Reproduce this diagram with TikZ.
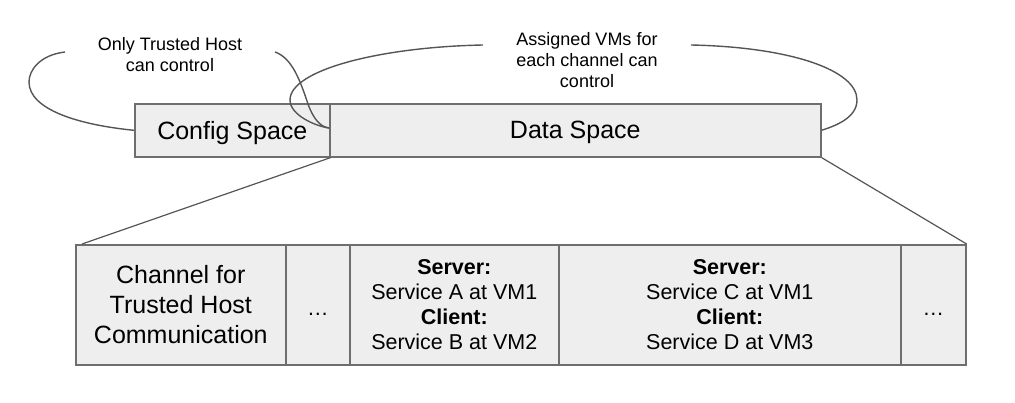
\documentclass[tikz,border=0pt]{standalone}
\usepackage{fontspec}
\setmainfont{Liberation Sans}
\definecolor{boxfill}{HTML}{EEEEEE}
\definecolor{boxline}{HTML}{6E6E6E}
\definecolor{curve}{HTML}{555555}
\tikzset{
  box/.style={draw=boxline, fill=boxfill, line width=1.6pt, inner sep=0pt, anchor=north west, align=center},
  bigtxt/.style={font=\fontsize{25}{30}\selectfont},
  midtxt/.style={font=\fontsize{21.5}{25}\selectfont},
  lbl/.style={font=\fontsize{18}{21}\selectfont, align=center, inner sep=0pt},
  conn/.style={draw=curve, line width=1.4pt},
}
\begin{document}
\begin{tikzpicture}[x=1pt,y=-1pt]
\useasboundingbox (0,0) rectangle (1015,403);
% top boxes
\node[box, bigtxt, minimum width=195pt, minimum height=53pt] (cfg) at (134,103) {\raisebox{-2.5pt}[\height][\depth]{Config Space}};
\node[box, bigtxt, minimum width=491pt, minimum height=53pt] (data) at (329,103) {\raisebox{-2.5pt}[\height][\depth]{Data Space}};
% bottom boxes
\node[box, bigtxt, minimum width=210pt, minimum height=120pt] (ch) at (75,244) {Channel for\\Trusted Host\\Communication};
\node[box, midtxt, minimum width=64pt, minimum height=120pt] (d1) at (285,244) {\raisebox{-10pt}[\height][\depth]{…}};
\node[box, midtxt, minimum width=209pt, minimum height=120pt] (ab) at (349,244) {\textbf{Server:}\\Service A at VM1\\\textbf{Client:}\\Service B at VM2};
\node[box, midtxt, minimum width=342pt, minimum height=120pt] (cd) at (558,244) {\textbf{Server:}\\Service C at VM1\\\textbf{Client:}\\Service D at VM3};
\node[box, midtxt, minimum width=65pt, minimum height=120pt] (d2) at (900,244) {\raisebox{-10pt}[\height][\depth]{…}};
% labels
\node[lbl] (lh) at (170,55) {Only Trusted Host\\can control};
\node[lbl] (lv) at (587,60) {Assigned VMs for\\each channel can\\control};
% zoom lines
\coordinate (chtop) at (82,244);
\draw[conn, line width=1.2pt] (cfg.south east) -- (chtop);
\draw[conn, line width=1.2pt] (data.south east) -- (d2.north east);
% curves
\coordinate (c1s) at (65,52);
\coordinate (c2s) at (275,52);
\coordinate (c3s) at (483,45);
\coordinate (c4s) at (691,45);
\coordinate (mid) at (329,128);
\draw[conn] (c1s) .. controls (40,55) and (29,70) .. (29,82) .. controls (29,110) and (80,125) .. (cfg.west);
\draw[conn] (c2s) .. controls (292,58) and (300,80) .. (308,104) .. controls (313,118) and (320,127) .. (mid);
\draw[conn] (c3s) .. controls (380,47) and (290,70) .. (290,100) .. controls (290,115) and (315,126) .. (mid);
\draw[conn] (c4s) .. controls (790,47) and (857,70) .. (857,100) .. controls (857,118) and (835,126) .. (data.east);
\end{tikzpicture}
\end{document}
